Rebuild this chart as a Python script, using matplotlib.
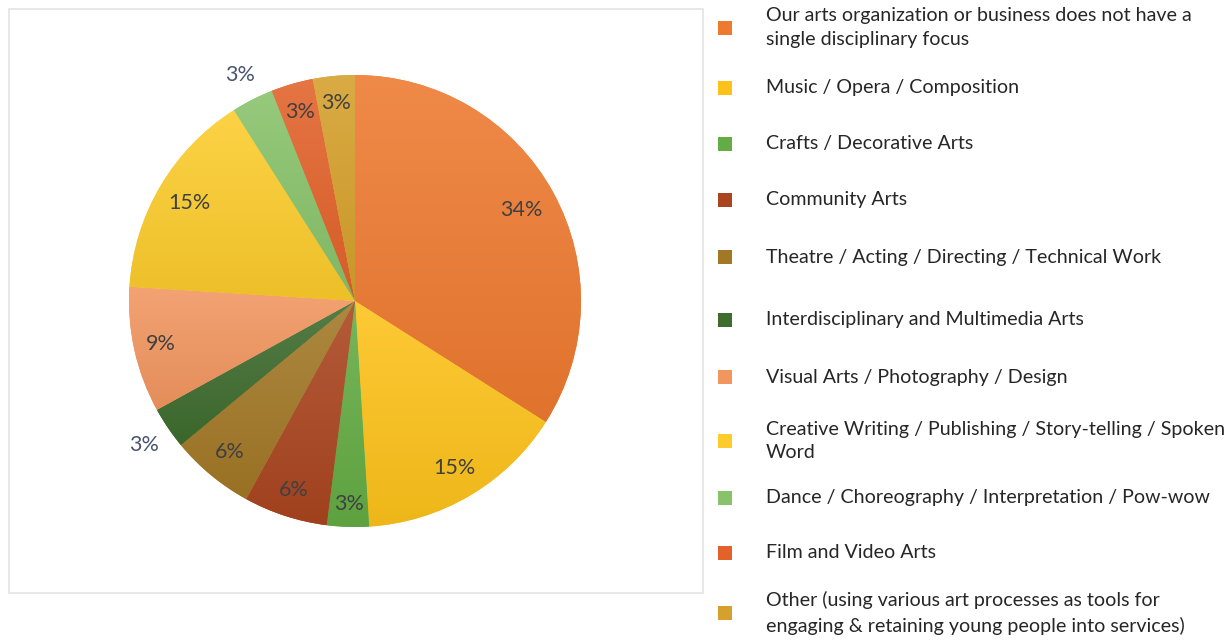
import numpy as np
import matplotlib
matplotlib.use("Agg")
import matplotlib.pyplot as plt
from matplotlib.patches import Rectangle
from matplotlib.colors import LinearSegmentedColormap, to_rgb

plt.rcParams['font.family'] = ['Lato', 'DejaVu Sans']

# Disciplinary focus of responding organizations (percent)
categories = [
    "Our arts organization or business does not have a\nsingle disciplinary focus",
    "Music / Opera / Composition",
    "Crafts / Decorative Arts",
    "Community Arts",
    "Theatre / Acting / Directing / Technical Work",
    "Interdisciplinary and Multimedia Arts",
    "Visual Arts / Photography / Design",
    "Creative Writing / Publishing / Story-telling / Spoken\nWord",
    "Dance / Choreography / Interpretation / Pow-wow",
    "Film and Video Arts",
    "Other (using various art processes as tools for\nengaging & retaining young people into services)",
]
percents = [34, 15, 3, 6, 6, 3, 9, 15, 3, 3, 3]
colors = ['#EE7A30', '#FDC21A', '#64AC44', '#AA451F', '#A27826', '#3E6C2E',
          '#F29660', '#FCCC2C', '#88C26A', '#E2622A', '#D5A02B']
# label distance from centre (fraction of radius); two small slices sit outside
label_r = [0.84, 0.86, 0.90, 0.88, 0.87, 1.13, 0.88, 0.85, 1.12, 0.87, 0.88]

W, H = 1228, 641
fig = plt.figure(figsize=(W / 100, H / 100), dpi=100)

# chart area frame
fig.add_artist(Rectangle((9 / W, 1 - 593 / H), 694 / W, 584 / H,
                         transform=fig.transFigure, fill=False,
                         edgecolor='#E4E4E4', linewidth=1.2))

cx, cy, R = 355, 301, 226
ax = fig.add_axes([(cx - R) / W, (H - cy - R) / H, 2 * R / W, 2 * R / H])
wedges, _ = ax.pie(percents, colors=colors, startangle=90, counterclock=False,
                   radius=1, wedgeprops=dict(linewidth=0))


def shade(c, f):
    r, g, b = to_rgb(c)
    if f > 0:
        return (r + (1 - r) * f, g + (1 - g) * f, b + (1 - b) * f)
    return (r * (1 + f), g * (1 + f), b * (1 + f))


# soft top-to-bottom gradient inside each slice
grad = np.linspace(0, 1, 256).reshape(-1, 1)
for w, c in zip(wedges, colors):
    v = w.get_path().vertices
    y0, y1 = v[:, 1].min(), v[:, 1].max()
    cmap = LinearSegmentedColormap.from_list('g', [shade(c, 0.12), shade(c, -0.06)])
    im = ax.imshow(grad, extent=(-1, 1, y0, y1), origin='upper', cmap=cmap,
                   aspect='auto', interpolation='bilinear', zorder=1)
    im.set_clip_path(w)

for w, p, r in zip(wedges, percents, label_r):
    ang = np.deg2rad((w.theta1 + w.theta2) / 2)
    col = '#4A5470' if r > 1 else '#404040'
    ax.text(r * np.cos(ang), r * np.sin(ang), f"{p}%", ha='center', va='center',
            fontsize=15.5, color=col, zorder=3)

ax.set_xlim(-1, 1)
ax.set_ylim(-1, 1)
ax.axis('off')

# legend
legend_y = [28, 88, 144, 200, 257, 320, 377, 441, 498, 553, 613]
for lab, c, y in zip(categories, colors, legend_y):
    fig.add_artist(Rectangle((718 / W, 1 - (y + 7) / H), 14 / W, 14 / H,
                             transform=fig.transFigure, facecolor=c,
                             edgecolor='none'))
    fig.text(766 / W, 1 - y / H, lab, ha='left', va='center', fontsize=14.1,
             color='#262626', linespacing=1.5)

fig.savefig('out.png', dpi=100, facecolor='white')
